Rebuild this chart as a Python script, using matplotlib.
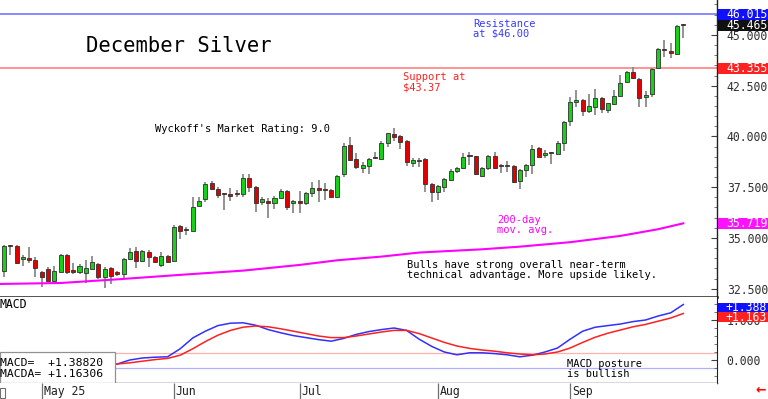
import matplotlib
matplotlib.use('Agg')
import matplotlib.pyplot as plt
from matplotlib.patches import Rectangle
import matplotlib.transforms as mtransforms
from matplotlib.ticker import FixedLocator, MultipleLocator, FuncFormatter

# ---------------- data ----------------
opens = [33.37, 34.62, 34.61, 33.98, 34.03, 33.90, 33.33, 33.47, 32.88, 33.33,
         34.16, 33.40, 33.33, 33.28, 33.47, 33.72, 33.08, 33.52, 33.30, 33.23,
         33.97, 34.36, 33.87, 34.31, 34.07, 33.67, 34.10, 33.87, 35.59, 35.44,
         35.34, 36.58, 36.90, 37.71, 37.41, 37.18, 37.17, 37.17, 37.17, 37.96,
         37.51, 36.77, 36.82, 36.70, 36.97, 37.31, 36.72, 36.82, 36.72, 37.22,
         37.46, 37.41, 37.36, 37.02, 38.15, 39.58, 38.89, 38.45, 38.55, 38.96,
         38.89, 39.68, 40.12, 40.02, 39.78, 38.69, 38.80, 38.89, 37.66, 37.27,
         37.51, 37.86, 38.30, 38.45, 39.06, 39.04, 38.05, 38.45, 39.04, 38.57,
         38.53, 38.55, 37.81, 38.35, 38.60, 39.43, 39.09, 39.21, 39.14, 39.68,
         40.76, 41.72, 41.80, 41.26, 41.45, 41.90, 41.31, 41.60, 41.99, 42.68,
         43.18, 42.83, 41.95, 42.09, 43.37, 44.28, 44.21, 44.06, 45.47]
highs = [34.66, 34.65, 34.65, 34.15, 34.55, 34.05, 33.35, 33.57, 33.62, 34.20,
         34.20, 33.77, 33.70, 33.92, 34.10, 33.75, 33.57, 33.57, 33.35, 34.00,
         34.50, 34.55, 34.40, 34.40, 34.10, 34.31, 34.15, 35.64, 35.64, 35.54,
         37.00, 37.00, 37.76, 37.81, 37.51, 37.20, 37.46, 37.36, 38.15, 38.15,
         37.56, 37.02, 36.97, 37.07, 37.41, 37.36, 36.87, 37.31, 37.27, 37.76,
         37.86, 37.71, 37.41, 38.10, 39.68, 39.98, 39.19, 38.74, 38.94, 39.24,
         39.78, 40.17, 40.42, 40.07, 39.83, 38.94, 38.94, 38.94, 37.71, 37.61,
         37.96, 38.40, 38.50, 39.19, 39.24, 39.06, 38.50, 39.09, 39.24, 38.65,
         38.79, 38.60, 38.40, 38.65, 39.58, 39.48, 39.34, 39.24, 39.78, 40.76,
         41.95, 42.29, 41.85, 42.09, 42.34, 41.95, 41.65, 42.29, 43.03, 43.23,
         43.42, 42.88, 42.24, 43.37, 44.36, 44.75, 44.61, 45.49, 45.54]
lows = [33.08, 34.17, 33.72, 33.62, 33.77, 33.08, 32.59, 32.83, 32.85, 33.30,
        33.20, 33.20, 33.23, 32.78, 33.42, 32.98, 32.54, 32.73, 33.10, 32.98,
        33.92, 33.52, 33.82, 33.57, 33.77, 33.57, 33.77, 33.87, 34.95, 35.15,
        35.34, 36.58, 36.77, 37.36, 36.97, 36.38, 36.82, 37.00, 37.02, 37.27,
        36.28, 36.62, 35.99, 36.43, 36.97, 36.38, 36.23, 36.23, 36.63, 37.02,
        36.77, 36.87, 37.02, 37.02, 38.00, 38.79, 38.40, 38.20, 38.15, 38.89,
        38.89, 39.48, 39.78, 39.38, 38.55, 38.50, 38.50, 37.27, 36.77, 36.87,
        37.27, 37.81, 38.20, 38.40, 38.60, 38.10, 38.00, 38.35, 38.40, 38.20,
        38.25, 37.71, 37.41, 38.00, 38.15, 38.99, 38.94, 38.65, 39.14, 39.29,
        40.52, 41.45, 41.01, 41.16, 41.06, 41.16, 41.16, 41.55, 41.95, 42.68,
        42.83, 41.45, 41.45, 41.95, 43.33, 43.92, 43.87, 44.01, 44.85]
closes = [34.61, 34.58, 33.77, 34.07, 33.90, 33.50, 33.08, 32.88, 33.38, 34.16,
          33.33, 33.33, 33.62, 33.52, 33.80, 33.08, 33.47, 33.13, 33.23, 33.97,
          34.31, 33.87, 34.36, 34.07, 33.82, 34.10, 33.82, 35.54, 35.34, 35.39,
          36.53, 36.82, 37.66, 37.41, 37.12, 37.14, 37.07, 37.15, 37.96, 37.51,
          36.72, 36.92, 36.70, 36.97, 37.31, 36.53, 36.82, 36.72, 37.22, 37.46,
          37.36, 37.36, 37.02, 38.05, 39.53, 38.84, 38.50, 38.60, 38.89, 38.92,
          39.68, 40.17, 39.98, 39.73, 38.74, 38.84, 38.84, 37.66, 37.27, 37.56,
          37.91, 38.30, 38.45, 38.99, 39.02, 38.15, 38.45, 39.04, 38.45, 38.53,
          38.57, 37.76, 38.35, 38.60, 39.38, 38.99, 39.19, 39.17, 39.68, 40.71,
          41.70, 41.77, 41.26, 41.50, 41.90, 41.36, 41.65, 41.99, 42.63, 43.18,
          42.88, 41.90, 42.04, 43.33, 44.31, 44.24, 44.11, 45.44, 45.465]

ma_idx = [-1, 9, 18, 28, 38, 47, 53, 60, 66, 76, 82, 90, 98, 104, 108]
ma_vals = [32.73, 32.78, 32.96, 33.18, 33.39, 33.67, 33.90, 34.08, 34.28,
           34.44, 34.57, 34.79, 35.10, 35.43, 35.72]

macd_idx = [17, 18, 20, 22, 24, 26, 28, 30, 32, 34, 36, 38, 40, 42, 44, 46, 48,
            50, 52, 54, 56, 58, 60, 62, 64, 66, 68, 70, 72, 74, 76, 78, 80, 82,
            84, 86, 88, 90, 92, 94, 96, 98, 100, 102, 104, 106, 108]
macd_vals = [-0.11, -0.10, 0.00, 0.05, 0.07, 0.08, 0.28, 0.55, 0.72, 0.86,
             0.92, 0.93, 0.87, 0.76, 0.68, 0.61, 0.56, 0.51, 0.47, 0.54, 0.64,
             0.71, 0.76, 0.80, 0.74, 0.52, 0.34, 0.20, 0.13, 0.18, 0.18, 0.16,
             0.13, 0.08, 0.12, 0.20, 0.30, 0.52, 0.72, 0.82, 0.86, 0.90, 0.96,
             1.00, 1.10, 1.18, 1.388]
signal_vals = [-0.11, -0.10, -0.07, -0.03, 0.01, 0.04, 0.12, 0.28, 0.46, 0.62,
               0.74, 0.82, 0.85, 0.83, 0.78, 0.72, 0.66, 0.60, 0.56, 0.56, 0.60,
               0.65, 0.70, 0.74, 0.74, 0.66, 0.55, 0.44, 0.35, 0.29, 0.25, 0.22,
               0.18, 0.15, 0.13, 0.15, 0.20, 0.30, 0.44, 0.57, 0.67, 0.75, 0.83,
               0.89, 0.97, 1.05, 1.163]

month_idx = [6, 27, 47, 69, 90]
month_labels = ["May 25", "Jun", "Jul", "Aug", "Sep"]
price_ticks = [32.5, 35.0, 37.5, 40.0, 42.5, 45.0]
macd_ticks = [0.0, 1.0]

resistance = 46.015
support = 43.355
last_close = 45.465
ma_last = 35.719
macd_last = 1.38820
macda_last = 1.16306

# ---------------- layout ----------------
W, H = 768, 399
MONO = 'DejaVu Sans Mono'
plt.rcParams['font.family'] = MONO

fig = plt.figure(figsize=(7.68, 3.99), dpi=100)
fig.patch.set_facecolor('white')


def axrect(x0, y0, x1, y1):
    return [x0 / W, 1 - y1 / H, (x1 - x0) / W, (y1 - y0) / H]


ax = fig.add_axes(axrect(0, 0, 717, 297))
axm = fig.add_axes(axrect(0, 297, 717, 383), sharex=ax)
axd = fig.add_axes(axrect(0, 383, 717, 399), sharex=ax)

XMIN, XMAX = -0.64, 113.35
ax.set_xlim(XMIN, XMAX)
ax.set_ylim(32.09, 46.72)
axm.set_ylim(-0.575, 1.575)
axd.set_ylim(0, 1)

# ---------------- candles ----------------
GREEN = '#18d018'
RED = '#e00000'
for i, (o, h, l, c) in enumerate(zip(opens, highs, lows, closes)):
    ax.vlines(i, l, h, color='#8a8a8a', lw=1.3, zorder=2)
    col = GREEN if c >= o else RED
    bottom = min(o, c)
    height = max(abs(c - o), 0.05)
    ax.add_patch(Rectangle((i - 0.32, bottom), 0.64, height, facecolor=col,
                           edgecolor='#303030', lw=0.6, zorder=3))

ax.plot(ma_idx, ma_vals, color='#ff00ff', lw=1.5, zorder=2)
ax.axhline(resistance, color='#8080ff', lw=1.3, zorder=1)
ax.axhline(support, color='#ff8a8a', lw=1.3, zorder=1)

# spines / ticks main
for s in ['top', 'left']:
    ax.spines[s].set_visible(False)
ax.spines['bottom'].set_color('#202020')
ax.spines['bottom'].set_linewidth(1.8)
ax.spines['right'].set_color('#202020')
ax.spines['right'].set_linewidth(1.0)
ax.yaxis.tick_right()
ax.yaxis.set_major_locator(FixedLocator(price_ticks))
ax.yaxis.set_minor_locator(MultipleLocator(0.5))
ax.yaxis.set_major_formatter(FuncFormatter(lambda v, p: f"{v:.3f}"))
ax.tick_params(axis='y', which='major', direction='in', length=4, width=0.8,
               color='#404040', labelsize=8.3, labelcolor='#303030', pad=7)
ax.tick_params(axis='y', which='minor', direction='in', length=2.5, width=0.6,
               color='#606060')
ax.tick_params(axis='x', which='both', bottom=False, labelbottom=False)

# ---------------- MACD ----------------
axm.plot(macd_idx, macd_vals, color='#3030ff', lw=1.1, zorder=3)
axm.plot(macd_idx, signal_vals, color='#ff2020', lw=1.1, zorder=3)
axm.axhline(0.175, color='#ffb0b0', lw=0.9, zorder=1)
axm.axhline(-0.19, color='#b0b0ff', lw=0.9, zorder=1)
for s in ['top', 'left']:
    axm.spines[s].set_visible(False)
axm.spines['right'].set_color('#202020')
axm.spines['bottom'].set_color('#404040')
axm.spines['bottom'].set_linewidth(1.0)
axm.yaxis.tick_right()
axm.yaxis.set_major_locator(FixedLocator(macd_ticks))
axm.yaxis.set_minor_locator(MultipleLocator(0.2))
axm.yaxis.set_major_formatter(FuncFormatter(lambda v, p: f"{v:.3f}"))
axm.tick_params(axis='y', which='major', direction='in', length=4, width=0.8,
                color='#404040', labelsize=8.3, labelcolor='#303030', pad=7)
axm.tick_params(axis='y', which='minor', direction='in', length=2.5, width=0.6,
                color='#606060')
axm.tick_params(axis='x', which='both', bottom=False, labelbottom=False)

axm.text(0.0, (383 - 304) / 86, "MACD", transform=axm.transAxes, fontsize=8.3,
         va='center', ha='left', color='black')
axm.add_patch(Rectangle((0, 0), 115 / 717, 31 / 86, transform=axm.transAxes,
                        facecolor='white', edgecolor='#909090', lw=0.9,
                        zorder=5, clip_on=False))
axm.text(0.0, (383 - 363) / 86, f"MACD=  +{macd_last:.5f}",
         transform=axm.transAxes, fontsize=8.2, va='center', ha='left',
         zorder=6)
axm.text(0.0, (383 - 374) / 86, f"MACDA= +{macda_last:.5f}",
         transform=axm.transAxes, fontsize=8.2, va='center', ha='left',
         zorder=6)
axm.text(567 / 717, (383 - 367) / 86, "MACD posture", transform=axm.transAxes,
         fontsize=7.5, va='baseline', ha='left')
axm.text(567 / 717, (383 - 377) / 86, "is bullish", transform=axm.transAxes,
         fontsize=7.5, va='baseline', ha='left')

# ---------------- date strip ----------------
for s in axd.spines.values():
    s.set_visible(False)
axd.tick_params(axis='both', which='both', left=False, bottom=False,
                labelleft=False, labelbottom=False)
axd.vlines(month_idx, 0, 1, color='#707070', lw=0.9)
for mi, lab in zip(month_idx, month_labels):
    axd.text(mi + 0.3, 0.45, lab, fontsize=8.3, va='center', ha='left',
             color='#202020')
axd.add_patch(Rectangle((0.0, 0.08), 5 / 717, 0.62, transform=axd.transAxes,
                        facecolor='white', edgecolor='#707070', lw=0.8,
                        clip_on=False))
fig.text(761 / W, 1 - 390 / H, "\u2190", color='#ff0000', fontsize=9,
         fontweight='bold', ha='center', va='center', family='DejaVu Sans')


# ---------------- right-side value boxes ----------------
def value_box(axis, val, color, txt, h_px, px_per_unit, offset=0.0):
    tr = mtransforms.blended_transform_factory(fig.transFigure, axis.transData)
    hh = h_px / px_per_unit
    y = val + offset
    axis.add_patch(Rectangle((718 / W, y - hh / 2), 1 - 718 / W, hh,
                             transform=tr, facecolor=color, edgecolor='none',
                             zorder=6, clip_on=False))
    axis.text(726 / W, y, txt, transform=tr, color='white', fontsize=8.3,
              va='center', ha='left', zorder=7, clip_on=False)


PPU_MAIN = 20.3
PPU_MACD = 40.0
value_box(ax, resistance, '#1010ff', f"{resistance:.3f}", 11.5, PPU_MAIN)
value_box(ax, last_close, '#101010', f"{last_close:.3f}", 11.5, PPU_MAIN)
value_box(ax, support, '#ff2020', f"{support:.3f}", 11.5, PPU_MAIN)
value_box(ax, ma_last, '#ff10ff', f"{ma_last:.3f}", 11.5, PPU_MAIN)
value_box(axm, macd_last, '#1010ff', f"+{macd_last:.3f}", 10, PPU_MACD,
          offset=-0.08)
value_box(axm, macda_last, '#ff2020', f"+{macda_last:.3f}", 10, PPU_MACD,
          offset=-0.10)


# ---------------- annotations on main panel ----------------
def mtext(x, y, s, **kw):
    ax.text(x / 717, (297 - y) / 297, s, transform=ax.transAxes,
            va='baseline', ha='left', **kw)


mtext(86, 52, "December Silver", fontsize=14.8, color='black')
mtext(473, 27, "Resistance", fontsize=7.5, color='#3a3aff')
mtext(473, 37, "at $46.00", fontsize=7.5, color='#3a3aff')
mtext(403, 80, "Support at", fontsize=7.5, color='#ff2020')
mtext(403, 90, "$43.37", fontsize=7.5, color='#ff2020')
mtext(155, 132, "Wyckoff's Market Rating: 9.0", fontsize=7.5, color='black')
mtext(497, 223, "200-day", fontsize=7.5, color='#ff00ff')
mtext(497, 233, "mov. avg.", fontsize=7.5, color='#ff00ff')
mtext(407, 268, "Bulls have strong overall near-term", fontsize=7.5,
      color='black')
mtext(407, 278, "technical advantage. More upside likely.", fontsize=7.5,
      color='black')

fig.savefig('out.png', dpi=100, facecolor='white')
